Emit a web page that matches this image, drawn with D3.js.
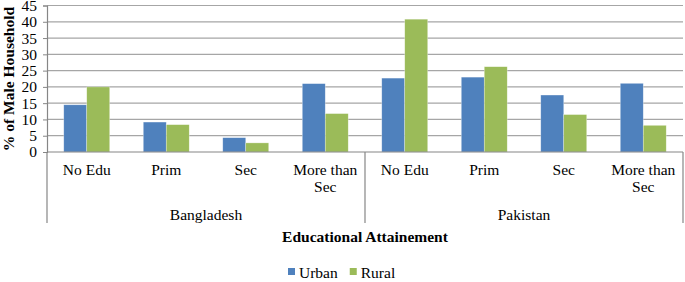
<!DOCTYPE html>
<html>
<head>
<meta charset="utf-8">
<script src="https://cdn.jsdelivr.net/npm/d3@7"></script>
<style>
  body { margin: 0; background: #fff; }
  text { font-family: "Liberation Serif", "Times New Roman", serif; fill: #000; }
</style>
</head>
<body>
<div id="chart"></div>
<script>
// data
var countries = ["Bangladesh", "Pakistan"];
var levels = ["No Edu", "Prim", "Sec", "More than Sec"];
var series = ["Urban", "Rural"];
var urban = [14.5, 9.2, 4.4, 21.0, 22.7, 23.0, 17.5, 21.1];
var rural = [20.0, 8.4, 2.8, 11.8, 40.8, 26.2, 11.5, 8.2];
var yTicks = [0, 5, 10, 15, 20, 25, 30, 35, 40, 45];

var colors = { Urban: "#4f81bd", Rural: "#9bbb59" };
var fs = "15.5px";

var W = 685, H = 282;
var plotLeft = 47, plotRight = 683, plotTop = 5.5, plotBottom = 152;

var svg = d3.select("#chart").append("svg")
    .attr("width", W)
    .attr("height", H);

// one slot per country/level pair
var rows = [];
countries.forEach(function(c, ci) {
    levels.forEach(function(l, li) {
        var i = ci * levels.length + li;
        rows.push({ key: c + "|" + l, country: c, level: l, Urban: urban[i], Rural: rural[i] });
    });
});

var x0 = d3.scaleBand()
    .domain(rows.map(function(d) { return d.key; }))
    .range([plotLeft, plotRight])
    .padding(0);

var x1 = d3.scaleBand()
    .domain(series)
    .range([0, x0.bandwidth()])
    .paddingInner(0)
    .paddingOuter(0.73);

var y = d3.scaleLinear()
    .domain([0, 45])
    .range([plotBottom, plotTop]);

// gridlines
svg.append("g")
    .selectAll("line")
    .data(yTicks.filter(function(t) { return t > 0; }))
    .enter()
    .append("line")
    .attr("x1", plotLeft).attr("x2", plotRight)
    .attr("y1", function(d) { return y(d); })
    .attr("y2", function(d) { return y(d); })
    .style("stroke", "#a6a6a6")
    .style("stroke-width", 1.2);

// y axis
var yAxis = svg.append("g")
    .attr("transform", "translate(" + plotLeft + ",0)")
    .call(d3.axisLeft(y).tickValues(yTicks).tickSize(4).tickPadding(6));
yAxis.select(".domain").style("stroke", "#868686").style("stroke-width", 1.2);
yAxis.selectAll(".tick line").style("stroke", "#868686");
yAxis.selectAll(".tick text")
    .style("font-size", fs)
    .style("font-family", "Liberation Serif");

// bars
var groups = svg.append("g")
    .selectAll("g")
    .data(rows)
    .enter()
    .append("g")
    .attr("transform", function(d) { return "translate(" + x0(d.key) + ",0)"; });

groups.selectAll("rect")
    .data(function(d) { return series.map(function(s) { return { s: s, v: d[s] }; }); })
    .enter()
    .append("rect")
    .attr("x", function(d) { return x1(d.s); })
    .attr("y", function(d) { return y(d.v); })
    .attr("width", x1.bandwidth())
    .attr("height", function(d) { return y(0) - y(d.v); })
    .style("fill", function(d) { return colors[d.s]; })
    .style("stroke", "#ffffff")
    .style("stroke-opacity", 0.5)
    .style("stroke-width", 0.6);

// x axis line
svg.append("line")
    .attr("x1", plotLeft).attr("x2", plotRight)
    .attr("y1", plotBottom).attr("y2", plotBottom)
    .style("stroke", "#868686")
    .style("stroke-width", 1.2);

// country separators
var sepBottom = 223;
var seps = [0, levels.length, rows.length];
svg.append("g")
    .selectAll("line")
    .data(seps)
    .enter()
    .append("line")
    .attr("x1", function(i) { return i < rows.length ? x0(rows[i].key) : plotRight; })
    .attr("x2", function(i) { return i < rows.length ? x0(rows[i].key) : plotRight; })
    .attr("y1", plotBottom)
    .attr("y2", sepBottom)
    .style("stroke", "#868686")
    .style("stroke-width", 1.2);

// level labels, long ones wrapped at the last space like the original
var lab = groups.append("text")
    .attr("text-anchor", "middle")
    .style("font-size", fs);
lab.each(function(d) {
    var lines = [d.level];
    if (d.level.length > 8) {
        var k = d.level.lastIndexOf(" ");
        lines = [d.level.slice(0, k), d.level.slice(k + 1)];
    }
    var t = d3.select(this);
    lines.forEach(function(line, i) {
        t.append("tspan")
            .attr("x", x0.bandwidth() / 2)
            .attr("y", 175 + i * 17)
            .text(line);
    });
});

// country labels
svg.append("g")
    .selectAll("text")
    .data(countries)
    .enter()
    .append("text")
    .attr("x", function(c, ci) {
        var a = x0(rows[ci * levels.length].key);
        var b = ci === countries.length - 1 ? plotRight : x0(rows[(ci + 1) * levels.length].key);
        return (a + b) / 2;
    })
    .attr("y", 220)
    .attr("text-anchor", "middle")
    .style("font-size", fs)
    .text(function(c) { return c; });

// axis titles
svg.append("text")
    .attr("x", (plotLeft + plotRight) / 2)
    .attr("y", 242)
    .attr("text-anchor", "middle")
    .style("font-size", fs)
    .style("font-weight", "bold")
    .text("Educational Attainement");

svg.append("text")
    .attr("transform", "translate(14,79) rotate(-90)")
    .attr("text-anchor", "middle")
    .style("font-size", fs)
    .style("font-weight", "bold")
    .text("% of Male Household");

// legend
var leg = svg.append("g").attr("transform", "translate(288,0)");
var lx = 0;
series.forEach(function(s) {
    var g = leg.append("g").attr("transform", "translate(" + lx + ",0)");
    g.append("rect")
        .attr("x", 0).attr("y", 268)
        .attr("width", 7).attr("height", 7)
        .style("fill", colors[s]);
    var t = g.append("text")
        .attr("x", 11).attr("y", 278)
        .style("font-size", fs)
        .text(s);
    lx += 11 + t.node().getComputedTextLength() + 12;
});
</script>
</body>
</html>
